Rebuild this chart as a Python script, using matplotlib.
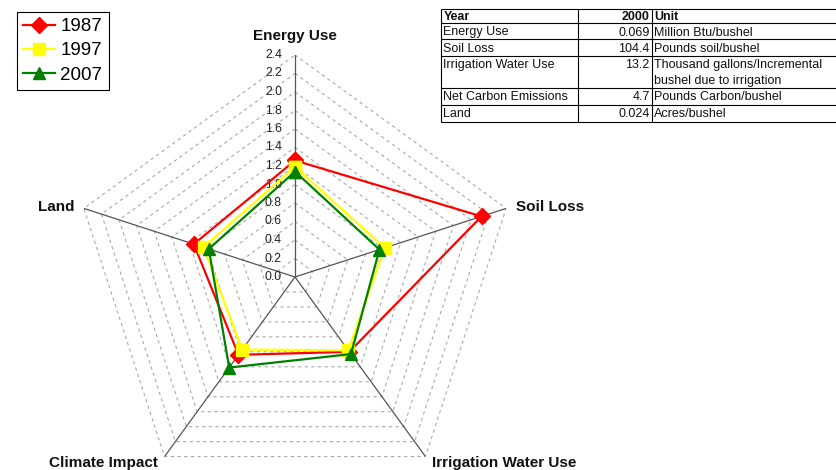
import numpy as np
import matplotlib
matplotlib.use("Agg")
import matplotlib.pyplot as plt

# radar data
categories = ["Energy Use", "Soil Loss", "Irrigation Water Use", "Climate Impact", "Land"]
years = ["1987", "1997", "2007"]
v1987 = [1.26, 2.12, 1.00, 1.04, 1.15]
v1997 = [1.19, 1.02, 0.98, 0.97, 1.04]
v2007 = [1.14, 0.96, 1.03, 1.21, 0.98]
ticks = [0.0, 0.2, 0.4, 0.6, 0.8, 1.0, 1.2, 1.4, 1.6, 1.8, 2.0, 2.2, 2.4]

# table data
tbl_header = ["Year", "2000", "Unit"]
tbl_names = ["Energy Use", "Soil Loss", "Irrigation Water Use", "Net Carbon Emissions", "Land"]
tbl_values = ["0.069", "104.4", "13.2", "4.7", "0.024"]
tbl_units = ["Million Btu/bushel", "Pounds soil/bushel",
             "Thousand gallons/Incremental\nbushel due to irrigation",
             "Pounds Carbon/bushel", "Acres/bushel"]

plt.rcParams['font.family'] = ['Liberation Sans', 'DejaVu Sans']

W, H = 837, 470
fig = plt.figure(figsize=(W / 100, H / 100), dpi=100)

# ---- table (drawn in pixel space) ----
tax = fig.add_axes([0, 0, 1, 1])
tax.set_xlim(0, W)
tax.set_ylim(H, 0)
tax.axis('off')
row_edges = [9, 23.3, 39.3, 56, 88.3, 105, 121.7]
col_edges = [441, 578.3, 651.7]
tax.hlines(row_edges, col_edges[0], W, color='black', lw=0.8)
tax.vlines(col_edges, row_edges[0], row_edges[-1], color='black', lw=0.8)
tfs = 9
rows = [tbl_header] + [[n, v, u] for n, v, u in zip(tbl_names, tbl_values, tbl_units)]
for i, (n, v, u) in enumerate(rows):
    base = row_edges[i] + (11.0 if i == 0 else 12.2)
    wt = 'bold' if i == 0 else 'normal'
    kw = dict(va='baseline', fontsize=tfs, fontweight=wt, color='#111111')
    tax.text(col_edges[0] + 2.5, base, n, ha='left', **kw)
    tax.text(col_edges[2] - 2, base, v, ha='right', **kw)
    for k, line in enumerate(u.split("\n")):
        tax.text(col_edges[2] + 2.5, base + 16 * k, line, ha='left', **kw)

# ---- radar ----
cx, cy, R = 295, 277, 222
ax = fig.add_axes([(cx - R) / W, (H - cy - R) / H, 2 * R / W, 2 * R / H], projection='polar')
ax.set_theta_zero_location('N')
ax.set_theta_direction(-1)
ax.set_ylim(0, ticks[-1])
ax.axis('off')

theta = np.arange(len(categories)) * 2 * np.pi / len(categories)
tc = np.append(theta, theta[0])

for r in ticks[1:]:
    ax.plot(tc, [r] * len(tc), ls=(0, (3, 3)), color='#aaaaaa', lw=0.8, zorder=1)
for t in theta:
    ax.plot([t, t], [0, ticks[-1]], color='#555555', lw=0.9, zorder=2)

for t in ticks:
    ax.annotate(f"{t:.1f}", xy=(0, t), xytext=(-13, 0), textcoords='offset pixels',
                ha='right', va='center', fontsize=8.8, color='#222222',
                annotation_clip=False, zorder=2.5)

series = [(v1987, '#ff0000', 'D', 8), (v1997, '#ffff00', 's', 8), (v2007, '#008000', '^', 8.5)]
handles = []
for vals, col, mk, ms in series:
    h, = ax.plot(tc, vals + vals[:1], color=col, lw=1.6, marker=mk, ms=ms,
                 mec=col, mfc=col, zorder=3, clip_on=False)
    handles.append(h)

lab_off = [((0, 19), 'center', 'center'), ((10, 1), 'left', 'center'),
           ((7, -6), 'left', 'center'), ((-7, -6), 'right', 'center'),
           ((-9, 1), 'right', 'center')]
for t, name, (off, ha, va) in zip(theta, categories, lab_off):
    ax.annotate(name, xy=(t, ticks[-1]), xytext=off, textcoords='offset pixels',
                ha=ha, va=va, fontsize=11, fontweight='bold', color='#111111',
                annotation_clip=False)

leg = fig.legend(handles, years, loc='upper left', bbox_to_anchor=(17 / W, 1 - 12 / H),
                 borderaxespad=0, fancybox=False, edgecolor='black', framealpha=1,
                 fontsize=13.5, handlelength=1.7, labelspacing=0.38, borderpad=0.32,
                 handletextpad=0.3)
leg.get_frame().set_linewidth(0.8)

fig.savefig("out.png", dpi=100)
